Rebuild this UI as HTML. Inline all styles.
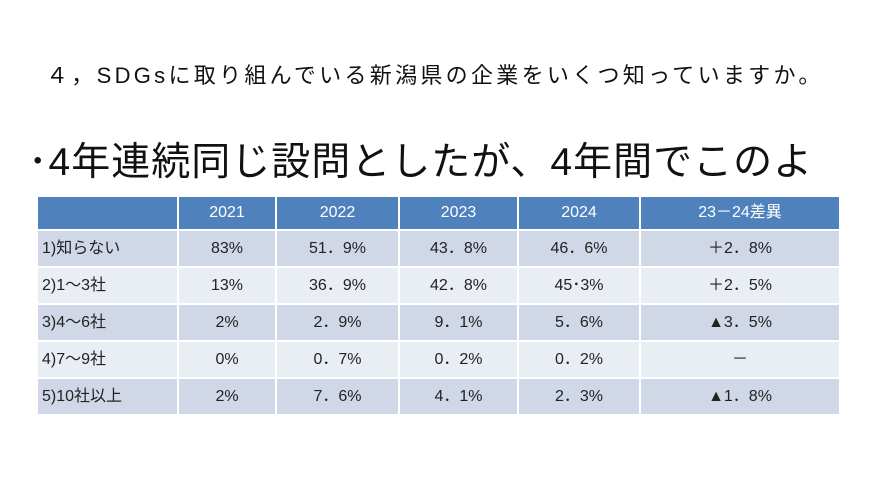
<!DOCTYPE html>
<html><head><meta charset="utf-8"><style>
body{margin:0;width:880px;height:494px;background:#fff;position:relative;overflow:hidden;font-family:"Liberation Sans","Noto Sans CJK JP",sans-serif;}
.t1{position:absolute;left:46px;top:58px;font-size:22px;color:#111;white-space:nowrap;letter-spacing:3.3px;}
.t2{position:absolute;left:28px;top:138px;font-size:39px;color:#111;white-space:nowrap;line-height:50px;letter-spacing:1px;}
table{position:absolute;left:36px;top:195px;border-collapse:collapse;font-size:16px;color:#222;table-layout:fixed;}
td{border:2px solid #fff;text-align:center;padding:0;height:35px;vertical-align:middle;line-height:20px;}
tr.h td{background:#4f81bd;color:#fff;height:32px;}
tr.o td{background:#d0d8e8;}
tr.e td{background:#e9edf4;}
td.l{text-align:left;padding-left:4px;}
</style></head><body>
<div class="t1">４，SDGsに取り組んでいる新潟県の企業をいくつ知っていますか。</div>
<div class="t2">･4年連続同じ設問としたが、4年間でこのよ</div>
<table>
<colgroup><col style="width:141px"><col style="width:98px"><col style="width:123px"><col style="width:119px"><col style="width:122px"><col style="width:200px"></colgroup>
<tr class="h"><td></td><td>2021</td><td>2022</td><td>2023</td><td>2024</td><td>23－24差異</td></tr>
<tr class="o"><td class="l">1)知らない</td><td>83%</td><td>51．9%</td><td>43．8%</td><td>46．6%</td><td>＋2．8%</td></tr>
<tr class="e"><td class="l">2)1～3社</td><td>13%</td><td>36．9%</td><td>42．8%</td><td>45･3%</td><td>＋2．5%</td></tr>
<tr class="o"><td class="l">3)4～6社</td><td>2%</td><td>2．9%</td><td>9．1%</td><td>5．6%</td><td>▲3．5%</td></tr>
<tr class="e"><td class="l">4)7～9社</td><td>0%</td><td>0．7%</td><td>0．2%</td><td>0．2%</td><td>－</td></tr>
<tr class="o"><td class="l">5)10社以上</td><td>2%</td><td>7．6%</td><td>4．1%</td><td>2．3%</td><td>▲1．8%</td></tr>
</table>
</body></html>
